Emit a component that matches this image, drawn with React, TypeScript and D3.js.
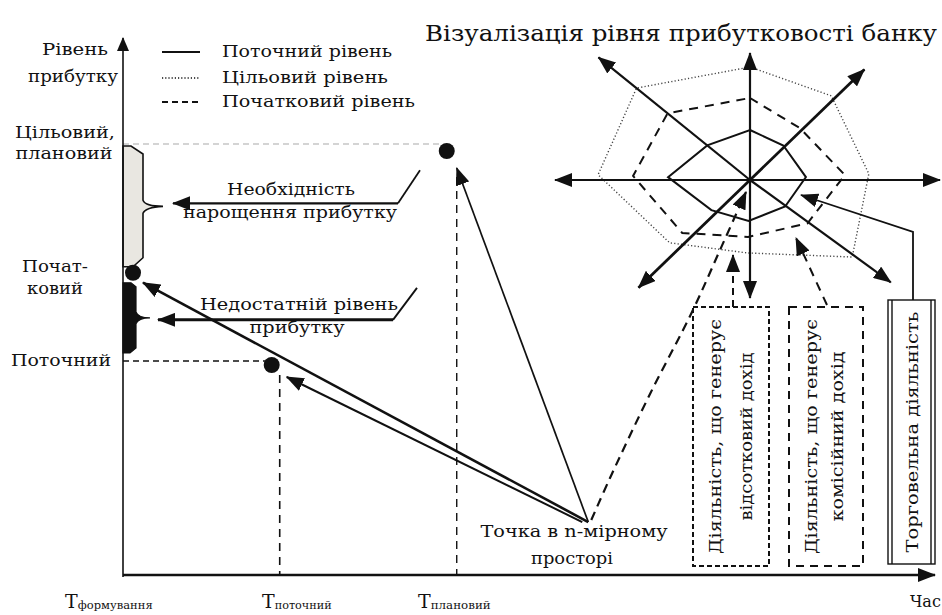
import React from "react";
import * as d3 from "d3";

const W = 942;
const H = 615;
const FONT = "DejaVu Serif";

// profit levels on the vertical axis
const levelLabels = [["Цільовий,", "плановий"], ["Почат-", "ковий"], ["Поточний"]];
const levelValues = [8.0, 5.65, 4.0];

// moments on the time axis
const timeLabels = ["формування", "поточний", "плановий"];
const timeValues = [0, 1.93, 4.11];

// point in n-dimensional space: [time, level]
const nPoint = [5.73, 0.99];

const legendLabels = ["Поточний рівень", "Цільовий рівень", "Початковий рівень"];

// radar: vertex directions (deg, clockwise from east) and scores per level
const radarAngles = [-90, -46, -3, 37, 92, 142, 182, -141];
const currentScores = [5.0, 4.8, 5.6, 4.4, 4.1, 4.9, 8.2, 5.5];
const initialScores = [8.2, 7.2, 9.5, 7.2, 5.7, 8.6, 11.7, 10.6];
const targetScores = [11.3, 11.7, 11.9, 12.8, 7.3, 10.2, 15.2, 14.6];
const axisAngles = [0, -44, -90, -141, 180, 136, 90, 36];
const axisLengths = [19.0, 15.9, 12.7, 19.5, 19.5, 15.5, 11.8, 17.4];

const activityLabels = [
  ["Діяльність, що генерує", "відсотковий дохід"],
  ["Діяльність, що генерує", "комісійний дохід"],
  ["Торговельна діяльність"],
];

// text helper: serif text squeezed/stretched to the width it has in the picture
function T({ x, y, w, size = 17, anchor = "start", transform, children }: any) {
  return (
    <text
      x={x}
      y={y}
      transform={transform}
      fontSize={size}
      textAnchor={anchor}
      textLength={w}
      lengthAdjust="spacingAndGlyphs"
      fill="#111"
      style={{ fontFamily: FONT }}
    >
      {children}
    </text>
  );
}

export default function App() {
  const x = d3.scaleLinear().domain([0, 10]).range([123, 935]);
  const y = d3.scaleLinear().domain([0, 10]).range([575, 40]);
  const r = d3.scaleLinear().domain([0, 20]).range([0, 200]);
  const cx = 750;
  const cy = 180;

  const radial = d3
    .lineRadial<number>()
    .angle((_, i) => ((radarAngles[i] + 90) * Math.PI) / 180)
    .radius((d) => r(d))
    .curve(d3.curveLinearClosed);

  const [yT, yI, yC] = levelValues.map((v) => y(v));
  const [xF, xC, xP] = timeValues.map((v) => x(v));
  const px = x(nPoint[0]);
  const py = y(nPoint[1]);

  const axisEnds = axisAngles.map((a, i) => {
    const t = (a * Math.PI) / 180;
    return [cx + r(axisLengths[i]) * Math.cos(t), cy + r(axisLengths[i]) * Math.sin(t)];
  });

  // dashed connector from the point to the radar centre
  const connector = d3.line().curve(d3.curveCatmullRom)([
    [px + 3, py - 2],
    [610, 478],
    [650, 394],
    [692, 312],
    [720, 250],
    [746, 192],
  ]);

  // braces on the vertical axis
  const gapTop = yT - 1;
  const gapBot = yI - 6;
  const mid1 = (gapTop + gapBot) / 2;
  const grayBrace = `M${xF},${gapTop} L${xF + 8},${gapTop} L${xF + 20},${gapTop + 8} L${xF + 20},${mid1 - 6}
    Q${xF + 22},${mid1} ${xF + 40},${mid1} Q${xF + 22},${mid1 + 1} ${xF + 20},${mid1 + 7}
    L${xF + 20},${gapBot - 9} L${xF + 10},${gapBot} L${xF},${gapBot} Z`;
  const bTop = yI + 10;
  const bBot = yC - 8;
  const mid2 = (bTop + bBot) / 2;
  const blackBrace = `M${xF},${bTop} L${xF + 8},${bTop} L${xF + 13},${bTop + 4} L${xF + 13},${mid2 - 6}
    Q${xF + 15},${mid2} ${xF + 27},${mid2} Q${xF + 15},${mid2} ${xF + 13},${mid2 + 6}
    L${xF + 13},${bBot - 5} L${xF + 7},${bBot} L${xF},${bBot} Z`;

  const legendY = [52, 78, 102];
  const legendDash = [null, "1.2,2", "6,4"];
  const legendW = [170, 166, 193];

  const boxes = [
    { x0: 693, x1: 769, y0: 307, y1: 566, dash: "5,3", lines: [721, 752], w: [235, 168] },
    { x0: 789, x1: 863, y0: 307, y1: 566, dash: "8,6", lines: [817, 843], w: [235, 170] },
    { x0: 888, x1: 935, y0: 300, y1: 564, dash: null, lines: [918], w: [241] },
  ];

  const timeLabelX = [65, 262, 418];
  const timeSubW = [75, 57, 60];

  return (
    <svg width={W} height={H} style={{ position: "absolute", left: 0, top: 0, background: "#fff" }}>
      <defs>
        <marker id="ah" viewBox="0 0 14 12" refX="13" refY="6" markerWidth="14" markerHeight="12"
          markerUnits="userSpaceOnUse" orient="auto">
          <path d="M0,0L14,6L0,12Z" fill="#111" />
        </marker>
        <marker id="ahL" viewBox="0 0 18 14" refX="17" refY="7" markerWidth="18" markerHeight="14"
          markerUnits="userSpaceOnUse" orient="auto">
          <path d="M0,0L18,7L0,14Z" fill="#111" />
        </marker>
      </defs>

      {/* title */}
      <T x={425} y={41} w={512} size={22}>Візуалізація рівня прибутковості банку</T>

      {/* legend */}
      {legendLabels.map((l, i) => (
        <g key={l}>
          <line x1={162} x2={200} y1={legendY[i]} y2={legendY[i]} stroke="#111"
            strokeWidth={legendDash[i] === "1.2,2" ? 1.3 : 2} strokeDasharray={legendDash[i] ?? undefined} />
          <T x={222} y={legendY[i] + 5} w={legendW[i]}>{l}</T>
        </g>
      ))}

      {/* axis titles */}
      <T x={108} y={55} w={66} anchor="end">Рівень</T>
      <T x={118} y={82} w={90} anchor="end">прибутку</T>
      <T x={65} y={yT - 9} w={100} anchor="middle">{levelLabels[0][0]}</T>
      <T x={64} y={yT + 12} w={97} anchor="middle">{levelLabels[0][1]}</T>
      <T x={55} y={yI - 1} w={66} anchor="middle">{levelLabels[1][0]}</T>
      <T x={55} y={yI + 21} w={56} anchor="middle">{levelLabels[1][1]}</T>
      <T x={111} y={yC + 5} w={100} anchor="end">{levelLabels[2][0]}</T>

      {/* braces */}
      <path d={grayBrace} fill="#e9e7e1" stroke="#111" strokeWidth={1.6} />
      <path d={blackBrace} fill="#111" stroke="#111" strokeWidth={1.2} />

      {/* guide lines */}
      <line x1={xF} x2={xP - 14} y1={yT - 3} y2={yT - 3} stroke="#aaa" strokeWidth={1.2} strokeDasharray="6,4" />
      <line x1={xF} x2={xC - 12} y1={yC} y2={yC} stroke="#111" strokeWidth={1.6} strokeDasharray="6,4" />
      <line x1={xC} x2={xC} y1={yC + 14} y2={y(0)} stroke="#111" strokeWidth={1.6} strokeDasharray="8,6" />
      <line x1={xP} x2={xP} y1={yT + 30} y2={y(0)} stroke="#111" strokeWidth={1.4} strokeDasharray="8,6" />

      {/* axes */}
      <line x1={xF} x2={xF} y1={y(0) + 2} y2={y(10) - 2} stroke="#111" strokeWidth={1.6} markerEnd="url(#ah)" />
      <line x1={xF} x2={x(10)} y1={y(0)} y2={y(0)} stroke="#111" strokeWidth={2.6} markerEnd="url(#ahL)" />

      {/* level dots */}
      <circle cx={xP - 10} cy={yT + 4} r={8} fill="#111" />
      <circle cx={xF + 10} cy={yI} r={8} fill="#111" />
      <circle cx={xC - 8} cy={yC + 4} r={8} fill="#111" />

      {/* annotation arrows on the left */}
      <line x1={398} x2={xF + 50} y1={mid1 - 3} y2={mid1 - 3} stroke="#111" strokeWidth={2.4} markerEnd="url(#ahL)" />
      <line x1={398} x2={420} y1={mid1 - 3} y2={mid1 - 36} stroke="#111" strokeWidth={1.8} />
      <T x={291} y={mid1 - 11} w={128} anchor="middle">Необхідність</T>
      <T x={290} y={mid1 + 12} w={214} anchor="middle">нарощення прибутку</T>

      <line x1={393} x2={xF + 35} y1={mid2 + 2} y2={mid2 + 2} stroke="#111" strokeWidth={3} markerEnd="url(#ahL)" />
      <line x1={393} x2={417} y1={mid2 + 2} y2={mid2 - 30} stroke="#111" strokeWidth={1.8} />
      <T x={299} y={mid2 - 8} w={198} anchor="middle">Недостатній рівень</T>
      <T x={297} y={mid2 + 15} w={95} anchor="middle">прибутку</T>

      {/* arrows from the point in n-dimensional space */}
      <line x1={px} y1={py} x2={xP} y2={yT + 21} stroke="#111" strokeWidth={1.7} markerEnd="url(#ahL)" />
      <line x1={px} y1={py} x2={xF + 20} y2={yI + 10} stroke="#111" strokeWidth={2.6} markerEnd="url(#ahL)" />
      <line x1={px - 6} y1={py} x2={xC + 7} y2={yC + 16} stroke="#111" strokeWidth={2} markerEnd="url(#ahL)" />
      <path d={connector ?? ""} fill="none" stroke="#111" strokeWidth={2.2} strokeDasharray="9,6" markerEnd="url(#ahL)" />
      <T x={574} y={py + 15} w={187} anchor="middle">Точка в n-мірному</T>
      <T x={572} y={py + 42} w={82} anchor="middle">просторі</T>

      {/* radar polygons */}
      <g transform={`translate(${cx},${cy})`}>
        <path d={radial(targetScores) ?? ""} fill="none" stroke="#444" strokeWidth={1.4} strokeDasharray="1.2,2.2" />
        <path d={radial(initialScores) ?? ""} fill="none" stroke="#111" strokeWidth={2} strokeDasharray="9,7" />
        <path d={radial(currentScores) ?? ""} fill="none" stroke="#111" strokeWidth={2} />
      </g>

      {/* radar axes */}
      {axisEnds.map(([ex, ey], i) => (
        <line key={i} x1={cx} y1={cy} x2={ex} y2={ey} stroke="#111"
          strokeWidth={i === 1 || i === 5 ? 2.8 : 2.2} markerEnd="url(#ahL)" />
      ))}

      {/* activity boxes */}
      {boxes.map((b, i) => (
        <g key={i}>
          <rect x={b.x0} y={b.y0} width={b.x1 - b.x0} height={b.y1 - b.y0} fill="#fff" stroke="#111"
            strokeWidth={b.dash ? 2 : 1.4} strokeDasharray={b.dash ?? undefined} />
          {!b.dash && (
            <>
              <line x1={b.x0 + 4} x2={b.x0 + 4} y1={b.y0} y2={b.y1} stroke="#111" strokeWidth={1.4} />
              <line x1={b.x1 - 4} x2={b.x1 - 4} y1={b.y0} y2={b.y1} stroke="#111" strokeWidth={1.4} />
            </>
          )}
          {activityLabels[i].map((t, j) => (
            <T key={j} x={0} y={0} w={b.w[j]} anchor="middle"
              transform={`translate(${b.lines[j]},${(b.y0 + b.y1) / 2}) rotate(-90)`}>{t}</T>
          ))}
        </g>
      ))}

      {/* links from the activity boxes to the radar */}
      <line x1={733} y1={307} x2={733} y2={255} stroke="#111" strokeWidth={2} strokeDasharray="7,5" markerEnd="url(#ahL)" />
      <line x1={827} y1={305} x2={796} y2={238} stroke="#111" strokeWidth={2} strokeDasharray="9,7" markerEnd="url(#ahL)" />
      <polyline points="913,300 913,232 801,195" fill="none" stroke="#111" strokeWidth={1.8} markerEnd="url(#ahL)" />

      {/* time labels */}
      {timeLabelX.map((lx, i) => (
        <text key={i} x={lx} y={608} fill="#111" style={{ fontFamily: FONT }}>
          <tspan fontSize={19}>Т</tspan>
          <tspan fontSize={11} dy={1} textLength={timeSubW[i]} lengthAdjust="spacingAndGlyphs">{timeLabels[i]}</tspan>
        </text>
      ))}
      <text x={910} y={607} fontSize={16} fill="#111" style={{ fontFamily: FONT }}>Час</text>
    </svg>
  );
}
